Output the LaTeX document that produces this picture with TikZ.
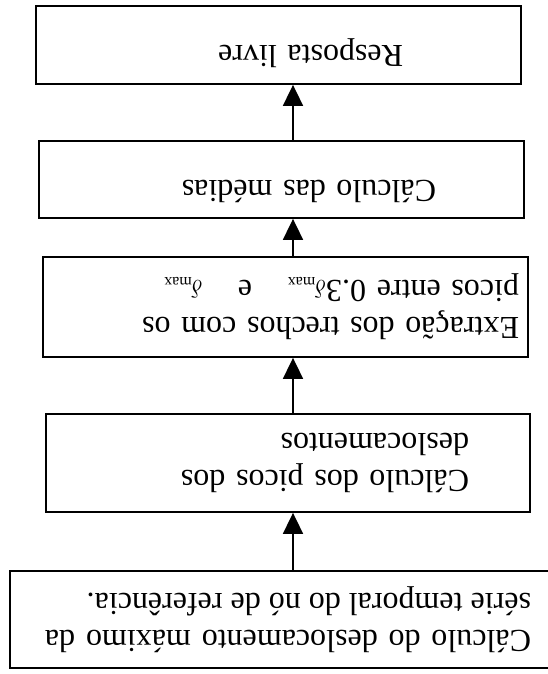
\documentclass[tikz,border=0pt]{standalone}
\usepackage{fontspec}
\setmainfont{Liberation Serif}
\usetikzlibrary{arrows.meta}

\begin{document}
\begin{tikzpicture}[x=1pt,y=-1pt]
				\tikzstyle{etapa}=[draw,line width=1.8pt,rotate=180,inner sep=0pt,
				font=\fontsize{32}{37}\selectfont]
				\tikzstyle{uma linha}=[text height=22pt,text depth=24pt]
				\tikzstyle{seta}=[line width=1.8pt,-{Triangle[width=20pt,length=21pt]}]
				\useasboundingbox (0,0) rectangle (548,674);
				% caixas (figura de cabeca para baixo)
				\node[etapa,uma linha,minimum width=485pt,minimum height=78pt,text width=249pt,align=left]
				(resposta) at (278.5,45) {Resposta livre};
				\node[etapa,uma linha,minimum width=485pt,minimum height=77pt,text width=309pt,align=left]
				(medias) at (281.5,179.5) {Cálculo das médias};
				\node[etapa,minimum width=485pt,minimum height=100pt,text width=467pt,align=left]
				(trechos) at (285.5,307) {Extração dos trechos com os\\
				picos entre 0.3$\delta_{\scriptscriptstyle\mathrm{max}}$\hspace{1.1em}e\hspace{1.1em}$\delta_{\scriptscriptstyle\mathrm{max}}$};
				\node[etapa,minimum width=484pt,minimum height=98pt,text width=362pt,align=left]
				(picos) at (288,463) {Cálculo dos picos dos deslocamentos};
				\node[etapa,minimum width=556pt,minimum height=97pt,text width=486pt,align=justify]
				(maximo) at (288,619.5) {Cálculo do deslocamento máximo da série temporal do nó de referência.};
				% setas
				\coordinate (eixo) at (293,0);
				\draw[seta] (medias.south -| eixo) -- (resposta.north -| eixo);
				\draw[seta] (trechos.south -| eixo) -- (medias.north -| eixo);
				\draw[seta] (picos.south -| eixo) -- (trechos.north -| eixo);
				\draw[seta] (maximo.south -| eixo) -- (picos.north -| eixo);
\end{tikzpicture}
\end{document}
